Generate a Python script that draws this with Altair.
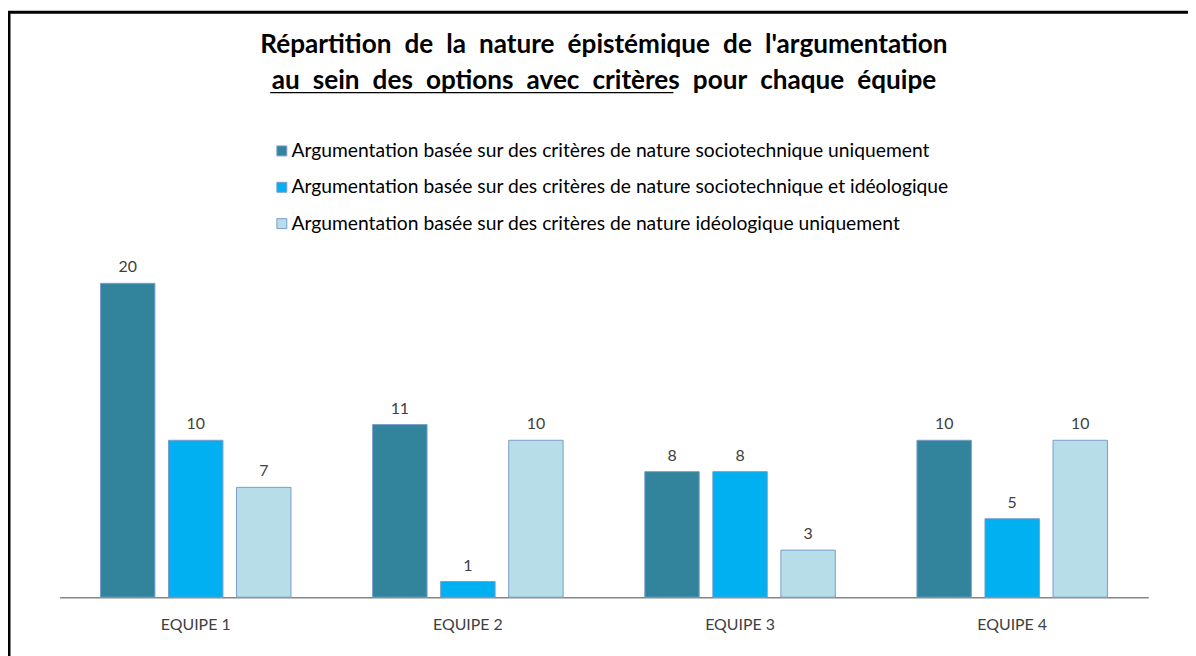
import altair as alt
import pandas as pd

equipes = ["EQUIPE 1", "EQUIPE 2", "EQUIPE 3", "EQUIPE 4"]
series = [
    "Argumentation basée sur des critères de nature sociotechnique uniquement",
    "Argumentation basée sur des critères de nature sociotechnique et idéologique",
    "Argumentation basée sur des critères de nature idéologique uniquement",
]
socio_only = [20, 11, 8, 10]
socio_ideo = [10, 1, 8, 5]
ideo_only = [7, 10, 3, 10]
colors = ["#31849B", "#00B0F0", "#B7DEE8"]
title_lines = ["Répartition de la nature épistémique de l'argumentation",
               "au sein des options avec critères pour chaque équipe"]

rows = []
for vals, s in zip([socio_only, socio_ideo, ideo_only], series):
    for e, v in zip(equipes, vals):
        rows.append({"equipe": e, "serie": s, "valeur": v})
df = pd.DataFrame(rows)

FONT = "Lato"

x = alt.X("equipe:N", sort=equipes, title=None,
          scale=alt.Scale(paddingInner=0.3, paddingOuter=0.15),
          axis=alt.Axis(labelAngle=0, ticks=False, domainColor="#868686", domainWidth=1.5,
                        labelFont=FONT, labelFontSize=16, labelColor="#404040", labelPadding=20))
xo = alt.XOffset("serie:N", sort=series, scale=alt.Scale(paddingInner=0.2, paddingOuter=0))
y = alt.Y("valeur:Q", scale=alt.Scale(domain=[0, 20], nice=False), axis=None)

base = alt.Chart(df)

bars = base.mark_bar(stroke="#7A9CCC", strokeWidth=1).encode(
    x=x, xOffset=xo, y=y,
    color=alt.Color("serie:N", sort=series,
                    scale=alt.Scale(domain=series, range=colors),
                    legend=alt.Legend(title=None, orient="none", legendX=214, legendY=-143,
                                      direction="vertical", symbolType="square", symbolSize=100,
                                      symbolStrokeColor="#7A9CCC", symbolStrokeWidth=1,
                                      labelFont=FONT, labelFontSize=19.4, labelColor="#000000",
                                      rowPadding=15.6, labelLimit=1000, symbolOffset=0,
                                      labelOffset=0)),
)

labels = base.mark_text(baseline="bottom", dy=-8, font=FONT, fontSize=16, color="#404040").encode(
    x=x, xOffset=xo, y=y, text="valeur:Q"
)

one = pd.DataFrame({"a": [0]})
underline = alt.Chart(one).mark_rule(color="#000000", strokeWidth=1.5).encode(
    x=alt.value(212), x2=alt.value(618), y=alt.value(-192)
)
border_top = alt.Chart(one).mark_rule(color="#000000", strokeWidth=3).encode(
    x=alt.value(-52), x2=alt.value(1140), y=alt.value(-273)
)
border_left = alt.Chart(one).mark_rule(color="#000000", strokeWidth=3).encode(
    x=alt.value(-51), y=alt.value(-274), y2=alt.value(380)
)

chart = alt.layer(bars, labels, underline, border_top, border_left).properties(
    width=1096, height=316,
    padding={"left": 52, "top": 275, "right": 40, "bottom": 57},
    autosize=alt.AutoSizeParams(type="none"),
    background="white",
    title=alt.TitleParams(
        text=[t.replace(" ", "\u2002") for t in title_lines],
        font=FONT, fontSize=26.3, fontWeight="bold", color="#000000",
        anchor="middle", lineHeight=36, offset=-85,
    ),
).configure_view(strokeWidth=0, stroke="transparent")

chart.save("out.html", embed_options={"renderer": "svg", "actions": False})
